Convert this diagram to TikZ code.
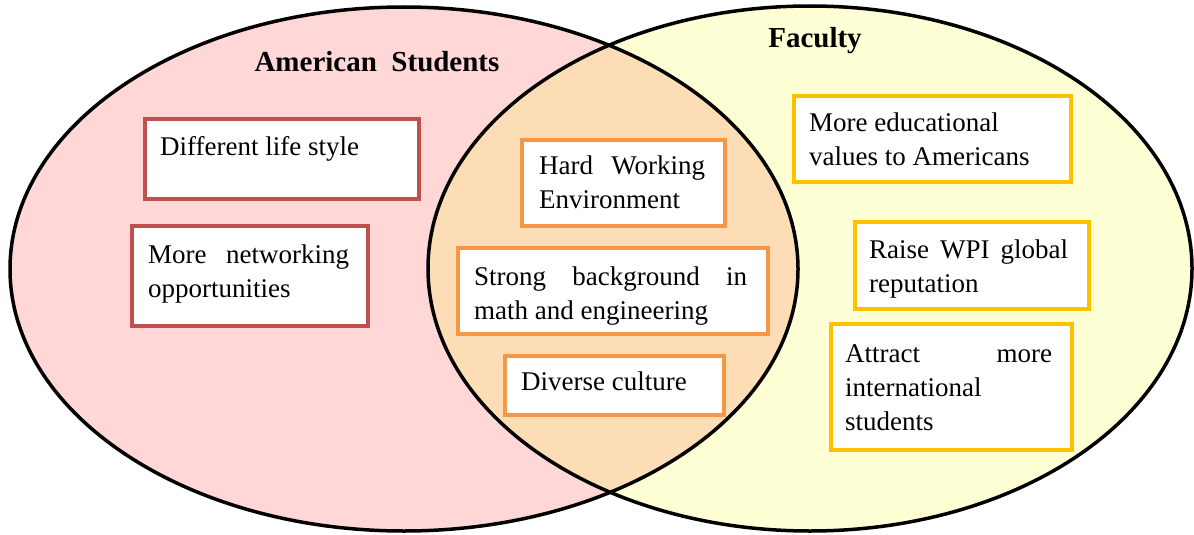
\documentclass[tikz,border=0pt]{standalone}
\usepackage{fontspec}
\setmainfont{Liberation Serif}
\definecolor{pinkfill}{RGB}{255,215,215}
\definecolor{yellowfill}{RGB}{255,255,214}
\definecolor{peachfill}{RGB}{253,221,182}
\definecolor{boxred}{RGB}{192,80,77}
\definecolor{boxorange}{RGB}{247,150,70}
\definecolor{boxgold}{RGB}{255,192,0}
\tikzset{
  ell/.style={line width=3.5pt, draw=black},
  boxbase/.style={draw, fill=white, line width=3.5pt, anchor=north west, inner sep=0pt, rectangle},
  lbox/.style={boxbase, draw=boxred},
  mbox/.style={boxbase, draw=boxorange},
  rbox/.style={boxbase, draw=boxgold},
  txt/.style={anchor=base west, inner sep=0pt, align=left, font=\fontsize{27}{34}\selectfont},
  ttl/.style={anchor=base, inner sep=0pt, font=\bfseries\fontsize{29}{34}\selectfont},
}
\begin{document}
\begin{tikzpicture}[x=1pt,y=-1pt]
\useasboundingbox (0,0) rectangle (1194,535);
% fills
\fill[pinkfill] (404,269) ellipse [x radius=394pt, y radius=262pt];
\fill[yellowfill] (810,268.5) ellipse [x radius=382pt, y radius=262.5pt];
\begin{scope}
  \clip (404,269) ellipse [x radius=394pt, y radius=262pt];
  \fill[peachfill] (810,268.5) ellipse [x radius=382pt, y radius=262.5pt];
\end{scope}
% outlines
\draw[ell] (404,269) ellipse [x radius=394pt, y radius=262pt];
\draw[ell] (810,268.5) ellipse [x radius=382pt, y radius=262.5pt];
% titles
\node[ttl] (tA) at (377,72) {American\ \ Students};
\node[ttl] (tF) at (815,48) {Faculty};
% left boxes
\node[lbox, minimum width=274pt, minimum height=80pt] (b1) at (143,117) {};
\node[txt] (t1) at (160,155) {Different life style};
\node[lbox, minimum width=236pt, minimum height=100pt] (b2) at (130,224) {};
\node[txt] (t2) at (148,297) {\makebox[201pt][s]{More networking}\\opportunities};
% middle boxes
\node[mbox, minimum width=203pt, minimum height=86pt] (b3) at (520,138) {};
\node[txt] (t3) at (539,208) {\makebox[166pt][s]{Hard Working}\\Environment};
\node[mbox, minimum width=310pt, minimum height=86pt] (b4) at (456,246) {};
\node[txt] (t4) at (474,319) {\makebox[273pt][s]{Strong background in}\\math and engineering};
\node[mbox, minimum width=219pt, minimum height=59pt] (b5) at (503,354) {};
\node[txt] (t5) at (521,390) {Diverse culture};
% right boxes
\node[rbox, minimum width=277pt, minimum height=86pt] (b6) at (792,94) {};
\node[txt] (t6) at (809,165) {More educational\\values to Americans};
\node[rbox, minimum width=234pt, minimum height=87pt] (b7) at (853,220) {};
\node[txt] (t7) at (869,292) {\makebox[199pt][s]{Raise WPI global}\\reputation};
\node[rbox, minimum width=241pt, minimum height=126pt] (b8) at (829,322) {};
\node[txt] (t8) at (845,430) {\makebox[207pt][s]{Attract more}\\international\\students};
\end{tikzpicture}
\end{document}
